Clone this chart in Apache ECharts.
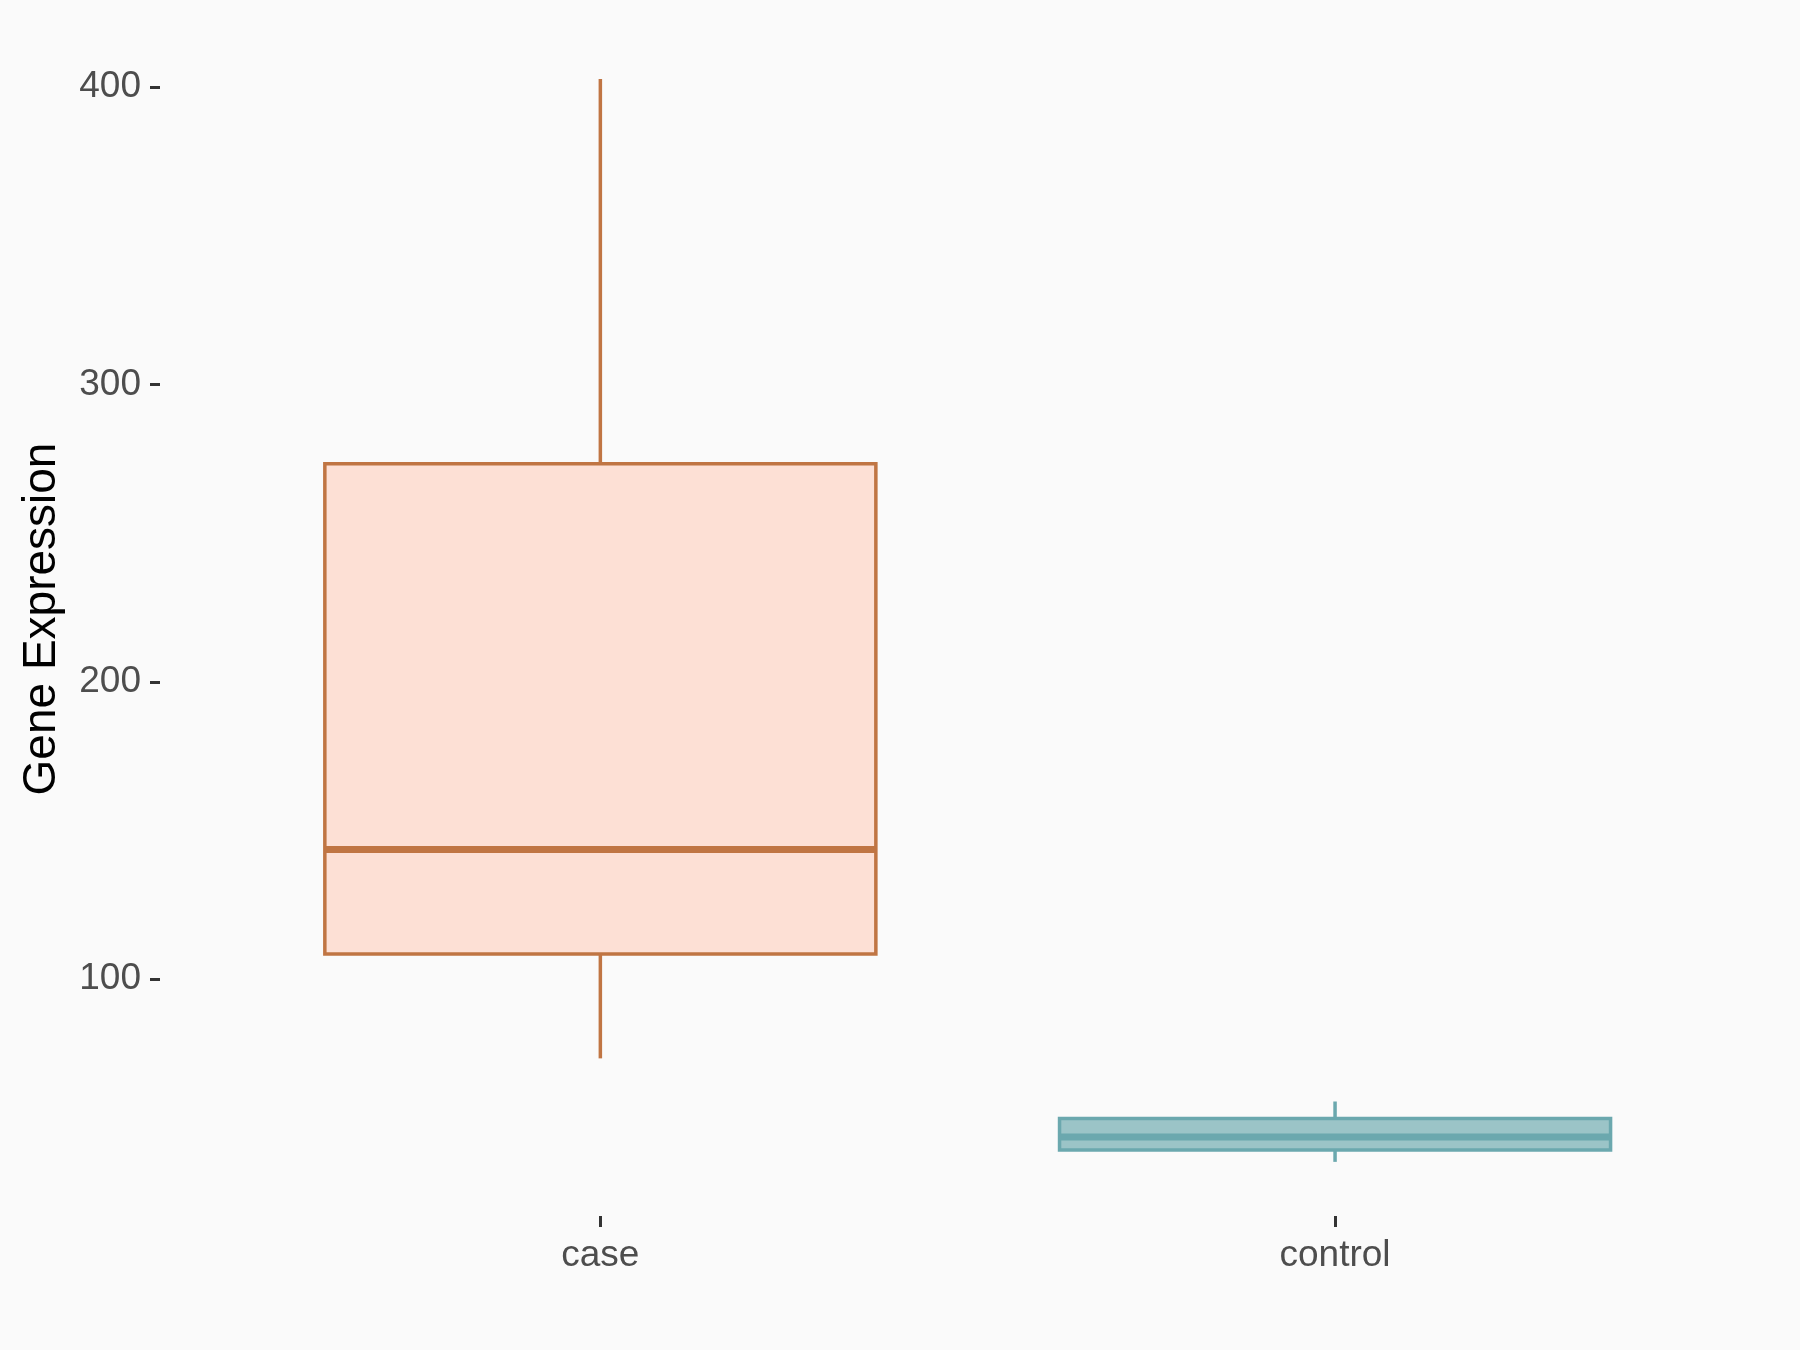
<!DOCTYPE html>
<html>
<head>
<meta charset="utf-8">
<script src="https://cdn.jsdelivr.net/npm/echarts@6/dist/echarts.min.js"></script>
<style>
html,body{margin:0;padding:0;background:#FAFAFA;}
#chart{width:1800px;height:1350px;}
</style>
</head>
<body>
<div id="chart"></div>
<script>
// Data
const categories = ['case', 'control'];
const whiskerLow = [73.4, 38.6];
const q1 = [108.5, 42.6];
const median = [143.6, 47.0];
const q3 = [273.3, 53.2];
const whiskerHigh = [402.7, 58.9];
const yTicks = [100, 200, 300, 400];

const fills = ['#FDE0D5', '#9BC4C7'];
const strokes = ['#C07543', '#6BA8AE'];

const boxData = categories.map((c, i) => [i, whiskerLow[i], q1[i], median[i], q3[i], whiskerHigh[i]]);

const chart = echarts.init(document.getElementById('chart'), null, {renderer: 'canvas'});
const font = '"Liberation Sans", Arial, sans-serif';

chart.setOption({
  backgroundColor: '#FAFAFA',
  animation: false,
  grid: {left: 233, right: 97.6, top: 24, bottom: 134, containLabel: false},
  xAxis: {
    type: 'category',
    data: categories,
    boundaryGap: true,
    axisLine: {show: false},
    axisTick: {show: true, alignWithLabel: true, length: 11, lineStyle: {color: '#333333', width: 3}},
    axisLabel: {margin: 21, fontSize: 37, color: '#4D4D4D', fontFamily: font},
    splitLine: {show: false}
  },
  yAxis: {
    type: 'value',
    min: 20.4,
    max: 421.2,
    offset: 73,
    axisLine: {show: false},
    axisTick: {show: true, length: 10, customValues: yTicks, lineStyle: {color: '#333333', width: 3}},
    axisLabel: {margin: 19, fontSize: 37, color: '#4D4D4D', fontFamily: font, customValues: yTicks},
    splitLine: {show: false}
  },
  graphic: [{
    type: 'text',
    x: 42,
    y: 619,
    rotation: Math.PI / 2,
    style: {
      text: 'Gene Expression',
      fontSize: 46,
      fontFamily: font,
      fill: '#000000',
      align: 'center',
      verticalAlign: 'middle'
    }
  }],
  series: [{
    type: 'custom',
    data: boxData,
    encode: {x: 0, y: [1, 2, 3, 4, 5]},
    renderItem: function (params, api) {
      const i = api.value(0);
      const pMin = api.coord([i, api.value(1)]);
      const pQ1 = api.coord([i, api.value(2)]);
      const pMed = api.coord([i, api.value(3)]);
      const pQ3 = api.coord([i, api.value(4)]);
      const pMax = api.coord([i, api.value(5)]);
      const half = api.size([1, 0])[0] * 0.75 / 2;
      const x = pMed[0];
      const stroke = strokes[i];
      const lw = 3.5;
      return {
        type: 'group',
        children: [
          {type: 'line', shape: {x1: x, y1: pQ3[1], x2: x, y2: pMax[1]}, style: {stroke: stroke, lineWidth: lw}},
          {type: 'line', shape: {x1: x, y1: pQ1[1], x2: x, y2: pMin[1]}, style: {stroke: stroke, lineWidth: lw}},
          {type: 'rect', shape: {x: x - half, y: pQ3[1], width: 2 * half, height: pQ1[1] - pQ3[1]},
            style: {fill: fills[i], stroke: stroke, lineWidth: lw}},
          {type: 'line', shape: {x1: x - half, y1: pMed[1], x2: x + half, y2: pMed[1]},
            style: {stroke: stroke, lineWidth: 7}}
        ]
      };
    }
  }]
});
</script>
</body>
</html>
